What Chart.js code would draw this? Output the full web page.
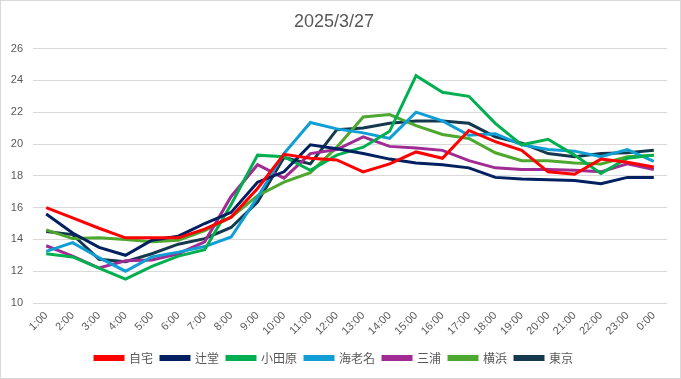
<!DOCTYPE html>
<html>
<head>
<meta charset="utf-8">
<script src="https://cdn.jsdelivr.net/npm/chart.js@4/dist/chart.umd.min.js"></script>
<style>
  html, body { margin: 0; padding: 0; background: #ffffff; }
  #wrap { position: relative; width: 681px; height: 379px; box-sizing: border-box; border: 1px solid #d9d9d9; }
  canvas { display: block; }
</style>
</head>
<body>
<div id="wrap"><canvas id="c" width="679" height="377"></canvas></div>
<script>
const categories = ['1:00','2:00','3:00','4:00','5:00','6:00','7:00','8:00','9:00','10:00','11:00','12:00','13:00','14:00','15:00','16:00','17:00','18:00','19:00','20:00','21:00','22:00','23:00','0:00'];

const jitaku    = [16.0, 15.35, 14.7, 14.1, 14.1, 14.1, 14.65, 15.4, 17.2, 19.35, 19.1, 19.0, 18.25, 18.75, 19.5, 19.1, 20.85, 20.15, 19.6, 18.25, 18.1, 19.05, 18.85, 18.55];
const tsujido    = [15.6, 14.4, 13.5, 13.0, 13.95, 14.2, 15.0, 15.7, 17.6, 18.25, 19.95, 19.7, 19.4, 19.05, 18.8, 18.7, 18.5, 17.9, 17.8, 17.75, 17.7, 17.5, 17.9, 17.9];
const odawara    = [13.1, 12.9, 12.2, 11.5, 12.3, 12.95, 13.35, 16.2, 19.3, 19.2, 18.35, 19.3, 19.8, 20.8, 24.3, 23.25, 23.0, 21.3, 19.95, 20.3, 19.3, 18.15, 19.1, 19.3];
const ebina      = [13.25, 13.8, 12.85, 12.0, 12.9, 13.2, 13.55, 14.15, 16.65, 19.4, 21.35, 20.95, 20.7, 20.35, 22.0, 21.45, 20.55, 20.65, 19.95, 19.65, 19.55, 19.2, 19.65, 18.9];
const miura      = [13.6, 12.95, 12.2, 12.65, 12.7, 13.1, 13.85, 16.7, 18.7, 17.85, 19.4, 19.65, 20.45, 19.85, 19.75, 19.6, 18.95, 18.5, 18.4, 18.4, 18.35, 18.25, 18.75, 18.4];
const yokohama   = [14.6, 14.05, 14.1, 14.0, 13.85, 13.95, 14.55, 15.4, 16.75, 17.6, 18.2, 19.8, 21.7, 21.85, 21.15, 20.6, 20.35, 19.45, 18.95, 18.95, 18.8, 18.75, 19.2, 19.3];
const tokyo      = [14.5, 14.3, 12.75, 12.6, 13.1, 13.7, 14.05, 14.75, 16.35, 19.15, 18.75, 20.9, 21.0, 21.3, 21.45, 21.45, 21.3, 20.45, 20.05, 19.4, 19.2, 19.4, 19.45, 19.6];

const seriesNames = ['自宅', '辻堂', '小田原', '海老名', '三浦', '横浜', '東京'];
const seriesColors = ['#FF0000', '#002060', '#00B050', '#0F9ED5', '#A02B93', '#4EA72E', '#14394E'];
const seriesData = [jitaku, tsujido, odawara, ebina, miura, yokohama, tokyo];

const yTicks = { min: 10, max: 26, step: 2 };
const titleText = '2025/3/27';

const textColor = '#595959';
const fontFamily = "'Liberation Sans', Arial, 'Noto Sans CJK JP', sans-serif";

const datasets = seriesNames.map((name, i) => ({
  label: name,
  data: seriesData[i],
  borderColor: seriesColors[i],
  backgroundColor: seriesColors[i],
  borderWidth: 3,
  pointRadius: 0,
  pointHoverRadius: 0,
  tension: 0,
  fill: false
}));

new Chart(document.getElementById('c'), {
  type: 'line',
  data: { labels: categories, datasets },
  options: {
    responsive: false,
    animation: false,
    layout: { padding: { left: 0, right: 13, top: 0, bottom: 4 } },
    plugins: {
      title: {
        display: true,
        text: titleText,
        color: textColor,
        font: { family: fontFamily, size: 18, weight: 'normal' },
        padding: { top: 10, bottom: 16 }
      },
      legend: {
        display: true,
        position: 'bottom',
        labels: {
          color: textColor,
          font: { family: "'Noto Sans CJK JP', sans-serif", size: 12 },
          boxWidth: 28,
          boxHeight: 3,
          padding: 8
        }
      },
      tooltip: { enabled: false }
    },
    scales: {
      x: {
        offset: true,
        grid: { display: false, drawTicks: false },
        border: { display: false },
        ticks: {
          color: textColor,
          font: { family: fontFamily, size: 11 },
          minRotation: 45,
          maxRotation: 45,
          autoSkip: false,
          padding: 6
        },
        afterFit: (s) => { s.height = 41; }
      },
      y: {
        min: yTicks.min,
        max: yTicks.max,
        ticks: {
          stepSize: yTicks.step,
          color: textColor,
          font: { family: fontFamily, size: 11 },
          padding: 10
        },
        grid: { color: '#d9d9d9', lineWidth: 1, drawTicks: false },
        border: { display: false },
        afterFit: (s) => { s.width = 32; }
      }
    }
  }
});
</script>
</body>
</html>
